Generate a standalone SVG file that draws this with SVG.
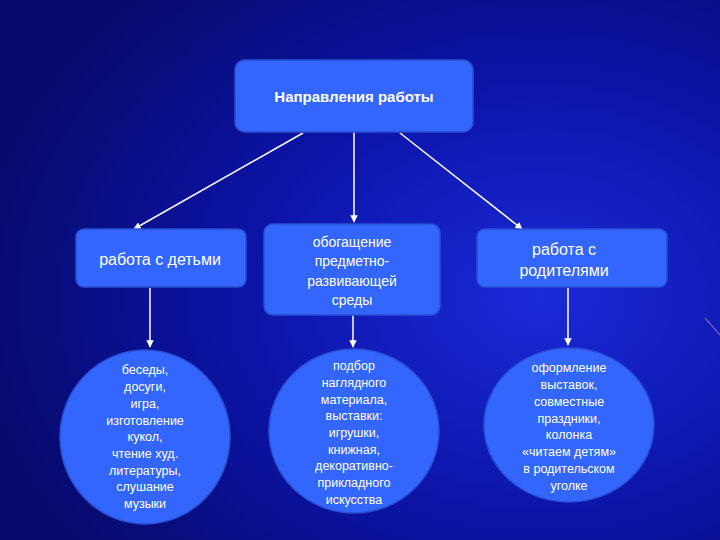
<svg xmlns="http://www.w3.org/2000/svg" width="720" height="540" viewBox="0 0 720 540">
<defs>
<radialGradient id="bg" cx="0.75" cy="0.55" r="0.8">
<stop offset="0" stop-color="#1a2ad8"/>
<stop offset="0.5" stop-color="#0c14a8"/>
<stop offset="1" stop-color="#060a6a"/>
</radialGradient>
<marker id="ah" viewBox="0 0 10 10" refX="9" refY="5" markerWidth="5" markerHeight="5" orient="auto"><path d="M0,0 L10,5 L0,10 z" fill="#fff"/></marker>
</defs>
<style>
.n{fill:#3366ff;stroke:#2a4fd0;stroke-width:1.5}
.t{font-family:"Liberation Sans",Arial,sans-serif;fill:#fff;text-anchor:middle}
.c line{stroke:#fff;stroke-width:1.5;marker-end:url(#ah)}
</style>
<rect width="720" height="540" fill="url(#bg)"/>
<line x1="705" y1="318" x2="720" y2="335" stroke="#c080ff" stroke-width="1"/>
<g class="c">
<line x1="303" y1="133" x2="134" y2="229"/>
<line x1="354" y1="128" x2="354" y2="222"/>
<line x1="400" y1="133" x2="522" y2="229"/>
<line x1="150" y1="288" x2="150" y2="347"/>
<line x1="353" y1="315" x2="353" y2="347"/>
<line x1="568" y1="288" x2="568" y2="345"/>
</g>
<g id="top"><rect class="n" x="235" y="60" width="238" height="72" rx="10"/><text class="t" x="354" y="102" font-size="15" font-weight="bold">Направления работы</text></g>
<g id="kids"><rect class="n" x="76" y="229" width="170" height="58" rx="8"/><text class="t" x="160" y="265" font-size="16">работа с детьми</text></g>
<g id="env"><rect class="n" x="264" y="224" width="176" height="91" rx="9"/><text class="t" font-size="14"><tspan x="352" y="247">обогащение</tspan><tspan x="352" y="266">предметно-</tspan><tspan x="352" y="286">развивающей</tspan><tspan x="352" y="305">среды</tspan></text></g>
<g id="par"><rect class="n" x="477" y="229" width="190" height="58" rx="8"/><text class="t" font-size="16"><tspan x="564" y="255">работа с</tspan><tspan x="564" y="276">родителями</tspan></text></g>
<g id="e1"><ellipse class="n" cx="145" cy="437" rx="85" ry="87"/><text class="t" font-size="12.5"><tspan x="145" y="374">беседы,</tspan><tspan x="145" y="391">досуги,</tspan><tspan x="145" y="408">игра,</tspan><tspan x="145" y="425">изготовление</tspan><tspan x="145" y="441">кукол,</tspan><tspan x="145" y="458">чтение  худ.</tspan><tspan x="145" y="475">литературы,</tspan><tspan x="145" y="491">слушание</tspan><tspan x="145" y="508">музыки</tspan></text></g>
<g id="e2"><ellipse class="n" cx="354" cy="431" rx="85" ry="82"/><text class="t" font-size="12.5"><tspan x="354" y="370">подбор</tspan><tspan x="354" y="387">наглядного</tspan><tspan x="354" y="404">материала,</tspan><tspan x="354" y="420">выставки:</tspan><tspan x="354" y="437">игрушки,</tspan><tspan x="354" y="454">книжная,</tspan><tspan x="354" y="470">декоративно-</tspan><tspan x="354" y="487">прикладного</tspan><tspan x="354" y="504">искусства</tspan></text></g>
<g id="e3"><ellipse class="n" cx="569" cy="425" rx="85" ry="77"/><text class="t" font-size="12.5"><tspan x="569" y="372">оформление</tspan><tspan x="569" y="389">выставок,</tspan><tspan x="569" y="406">совместные</tspan><tspan x="569" y="423">праздники,</tspan><tspan x="569" y="439">колонка</tspan><tspan x="569" y="456">«читаем детям»</tspan><tspan x="569" y="473">в родительском</tspan><tspan x="569" y="490">уголке</tspan></text></g>
</svg>
